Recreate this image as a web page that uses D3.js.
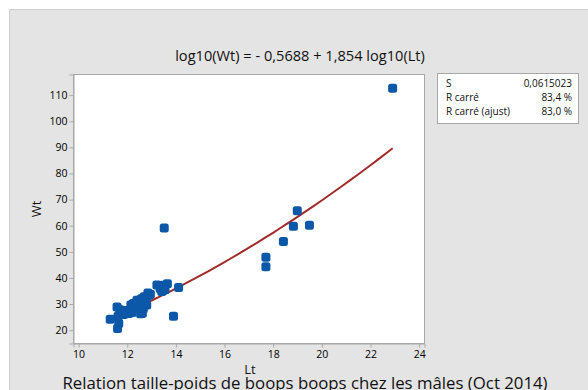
<!DOCTYPE html>
<html><head><meta charset="utf-8">
<script src="https://cdn.jsdelivr.net/npm/d3@7"></script>
<style>
html,body{margin:0;padding:0;background:#fff;overflow:hidden;}
svg{display:block;font-family:"Open Sans","Noto Sans",sans-serif;}
</style></head>
<body>
<script>
// Data
const lengths = [11.30,11.60,11.65,11.58,11.70,11.62,11.85,11.95,12.06,12.15,12.25,12.20,12.38,12.45,12.55,12.58,12.52,12.70,12.78,12.88,12.80,12.66,12.62,12.95,12.72,13.22,13.35,13.48,13.65,13.42,13.55,14.11,13.90,13.52,17.70,17.70,18.42,18.83,18.99,19.49,22.91,12.85,12.40];
const weights = [24.2,20.6,22.6,28.9,27.8,25.3,26.0,27.5,26.4,29.6,30.2,26.8,28.8,30.8,26.3,32.0,30.0,32.8,31.5,33.4,29.6,28.2,26.5,33.8,30.5,37.3,36.0,37.2,37.8,34.8,35.5,36.3,25.3,59.1,47.9,44.3,54.0,59.8,65.7,60.2,112.6,34.2,31.5];
const xTicks = [10,12,14,16,18,20,22,24];
const yTicks = [20,30,40,50,60,70,80,90,100,110];
const intercept = -0.5688, slope = 1.854;
const statLabels = ["S","R carré","R carré (ajust)"];
const statValues = ["0,0615023","83,4 %","83,0 %"];
const fitTitle = "log10(Wt) = - 0,5688 + 1,854 log10(Lt)";
const mainTitle = "Relation taille-poids de boops boops chez les mâles (Oct 2014)";

const W = 588, H = 390;
const svg = d3.select("body").append("svg").attr("width", W).attr("height", H);

// background panel
svg.append("rect").attr("x",0).attr("y",0).attr("width",W).attr("height",H).attr("fill","#fff");
svg.append("rect").attr("x",9.5).attr("y",9.5).attr("width",W).attr("height",H)
  .attr("fill","#e4e4e4").attr("stroke","#cfcfcf");

const pl = 73.5, pr = 424.5, pt = 74.5, pb = 343.5;
const x = d3.scaleLinear().domain([9.79, 24.22]).range([pl, pr]);
const y = d3.scaleLinear().domain([14.9, 117.9]).range([pb, pt]);

svg.append("rect").attr("x",pl).attr("y",pt).attr("width",pr-pl).attr("height",pb-pt)
  .attr("fill","#fff").attr("stroke","#a8a8a8");

// axes
const xAxis = svg.append("g").attr("transform",`translate(0,${pb})`)
  .call(d3.axisBottom(x).tickValues(xTicks).tickSize(4).tickPadding(3).tickFormat(d3.format("d")));
const yAxis = svg.append("g").attr("transform",`translate(${pl},0)`)
  .call(d3.axisLeft(y).tickValues(yTicks).tickSize(4).tickPadding(2).tickFormat(d3.format("d")));
[xAxis,yAxis].forEach(a=>{
  a.select(".domain").attr("stroke","#a8a8a8");
  a.selectAll(".tick line").attr("stroke","#a8a8a8");
  a.selectAll(".tick text").attr("fill","#000").style("font-size","10.5px")
   .style("font-family","'Open Sans','Noto Sans',sans-serif");
});

// fitted line
const lo = d3.min(lengths), hi = d3.max(lengths);
const fitL = d3.range(0, 41).map(i => lo + (hi-lo)*i/40);
const line = d3.line().x(d=>x(d)).y(d=>y(Math.pow(10, intercept + slope*Math.log10(d))));
svg.append("path").datum(fitL).attr("d", line).attr("fill","none")
  .attr("stroke","#a42a2a").attr("stroke-width",2);

// points
const pts = lengths.map((l,i)=>({l, w: weights[i]}));
svg.append("g").selectAll("rect").data(pts).join("rect")
  .attr("x", d=>x(d.l)-4.5).attr("y", d=>y(d.w)-4.5)
  .attr("width",9).attr("height",9).attr("rx",2.5)
  .attr("fill","#0b57a8");

// titles
svg.append("text").attr("x",300).attr("y",61).attr("text-anchor","middle")
  .style("font-size","14.6px").attr("fill","#111").text(fitTitle);
svg.append("text").attr("x",250).attr("y",374).attr("text-anchor","middle")
  .style("font-size","13px").attr("fill","#111").text("Lt");
svg.append("text").attr("transform","translate(41,209) rotate(-90)").attr("text-anchor","middle")
  .style("font-size","13px").attr("fill","#111").text("Wt");
svg.append("text").attr("x",305).attr("y",389).attr("text-anchor","middle")
  .style("font-size","16.8px").attr("fill","#111").text(mainTitle);

// stats box
svg.append("rect").attr("x",437.5).attr("y",73.5).attr("width",141).attr("height",50)
  .attr("fill","#fff").attr("stroke","#a8a8a8");
statLabels.forEach((s,i)=>{
  svg.append("text").attr("x",446).attr("y",87+i*14).style("font-size","10px").attr("fill","#111").text(s);
  svg.append("text").attr("x",572).attr("y",87+i*14).attr("text-anchor","end")
    .style("font-size","10px").attr("fill","#111").text(statValues[i]);
});
</script>
</body></html>
